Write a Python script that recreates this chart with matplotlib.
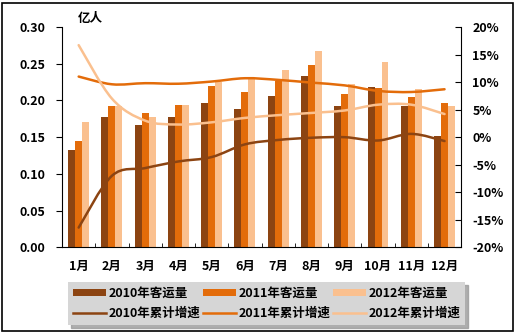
import numpy as np
import matplotlib
matplotlib.use("Agg")
import matplotlib.pyplot as plt
from matplotlib.path import Path
from matplotlib.patches import PathPatch, Rectangle, Patch
from matplotlib.lines import Line2D

plt.rcParams['font.family'] = ['Noto Sans CJK SC', 'DejaVu Sans']
plt.rcParams['font.weight'] = 'bold'

months = ['1月', '2月', '3月', '4月', '5月', '6月', '7月', '8月', '9月', '10月', '11月', '12月']

# passenger volume (亿人)
vol_2010 = [0.132, 0.178, 0.167, 0.177, 0.197, 0.188, 0.206, 0.233, 0.193, 0.218, 0.192, 0.151]
vol_2011 = [0.145, 0.193, 0.183, 0.194, 0.219, 0.212, 0.226, 0.248, 0.209, 0.217, 0.205, 0.196]
vol_2012 = [0.170, 0.193, 0.177, 0.194, 0.225, 0.229, 0.242, 0.267, 0.222, 0.253, 0.215, 0.192]

# cumulative growth (%)
gr_2010 = [-16.4, -7.0, -5.6, -4.4, -3.6, -1.3, -0.5, -0.1, 0.0, -0.6, 0.6, -0.7]
gr_2011 = [11.0, 9.6, 9.8, 9.7, 10.1, 10.7, 10.4, 9.9, 9.4, 8.4, 8.2, 8.7]
gr_2012 = [16.7, 7.0, 3.0, 2.3, 2.7, 3.5, 4.0, 4.4, 4.85, 5.9, 5.9, 4.2]

c_dark = '#8c4412'
c_mid = '#e36c0a'
c_light = '#fac08f'


def smooth_path(xs, ys):
    # excel-like smoothed line: bezier segments through every point
    pts = np.column_stack([xs, ys]).astype(float)
    n = len(pts)
    verts = [pts[0]]
    codes = [Path.MOVETO]
    for i in range(n - 1):
        p0 = pts[max(i - 1, 0)]
        p1 = pts[i]
        p2 = pts[i + 1]
        p3 = pts[min(i + 2, n - 1)]
        c1 = p1 + (p2 - p0) / 6.0
        c2 = p2 - (p3 - p1) / 6.0
        verts += [c1, c2, p2]
        codes += [Path.CURVE4] * 3
    return Path(verts, codes)


fig = plt.figure(figsize=(5.17, 3.33), dpi=100)
fig.patches.append(Rectangle((0.004, 0.006), 0.988, 0.985, transform=fig.transFigure,
                             fill=False, edgecolor='black', linewidth=1.2))

ax = fig.add_axes([0.12, 0.257, 0.772, 0.662])
x = np.arange(len(months))
w = 0.21
ax.bar(x - w, vol_2010, w, color=c_dark, linewidth=0)
ax.bar(x, vol_2011, w, color=c_mid, linewidth=0)
ax.bar(x + w, vol_2012, w, color=c_light, linewidth=0)

ax.set_xlim(-0.5, 11.5)
ax.set_ylim(0, 0.30)
ax.set_yticks(np.arange(0, 0.31, 0.05))
ax.set_yticklabels([f'{v:.2f}' for v in np.arange(0, 0.31, 0.05)], fontsize=9, fontweight='bold')
ax.set_xticks(x)
ax.set_xticklabels(months, fontsize=9, fontweight='bold')
ax.tick_params(axis='x', length=0, pad=9)
ax.set_xticks(np.arange(0.5, 11.5, 1), minor=True)
ax.tick_params(axis='x', which='minor', direction='in', length=3)
ax.tick_params(axis='y', direction='out', length=4, pad=8)
ax.spines['top'].set_visible(False)
ax.spines['right'].set_visible(False)
ax.text(0.04, 1.01, '亿人', transform=ax.transAxes, fontsize=9, fontweight='bold',
        ha='left', va='bottom')

ax2 = ax.twinx()
ax2.set_ylim(-20, 20)
ax2.set_yticks(np.arange(-20, 21, 5))
ax2.set_yticklabels([f'{v}%' for v in range(-20, 21, 5)], fontsize=9, fontweight='bold')
ax2.tick_params(axis='y', direction='in', length=4, pad=8)
ax2.spines['top'].set_visible(False)
ax2.spines['left'].set_visible(False)
ax2.spines['bottom'].set_visible(False)

for series, col in [(gr_2010, c_dark), (gr_2011, c_mid), (gr_2012, c_light)]:
    ax2.add_patch(PathPatch(smooth_path(x, series), facecolor='none', edgecolor=col,
                            linewidth=1.8, capstyle='round'))

handles = [
    Patch(facecolor=c_dark, edgecolor='none'),
    Line2D([], [], color=c_dark, linewidth=1.8),
    Patch(facecolor=c_mid, edgecolor='none'),
    Line2D([], [], color=c_mid, linewidth=1.8),
    Patch(facecolor=c_light, edgecolor='none'),
    Line2D([], [], color=c_light, linewidth=1.8),
]
labels = ['2010年客运量', '2010年累计增速', '2011年客运量', '2011年累计增速',
          '2012年客运量', '2012年累计增速']
leg = fig.legend(handles, labels, ncol=3, loc='upper left',
                 bbox_to_anchor=(0.132, 0.035, 0.768, 0.118), bbox_transform=fig.transFigure,
                 mode='expand', borderaxespad=0, fontsize=9,
                 frameon=True, fancybox=False, shadow={'color': '#9a9a9a', 'alpha': 0.8},
                 handlelength=2.6, handleheight=0.55, handletextpad=0.2,
                 columnspacing=1.0, labelspacing=0.55, borderpad=0.4)
leg.get_frame().set_facecolor('#d6d6d6')
leg.get_frame().set_edgecolor('none')
leg.get_frame().set_alpha(1)
for t in leg.get_texts():
    t.set_fontweight('bold')

fig.savefig('out.png', dpi=100)
